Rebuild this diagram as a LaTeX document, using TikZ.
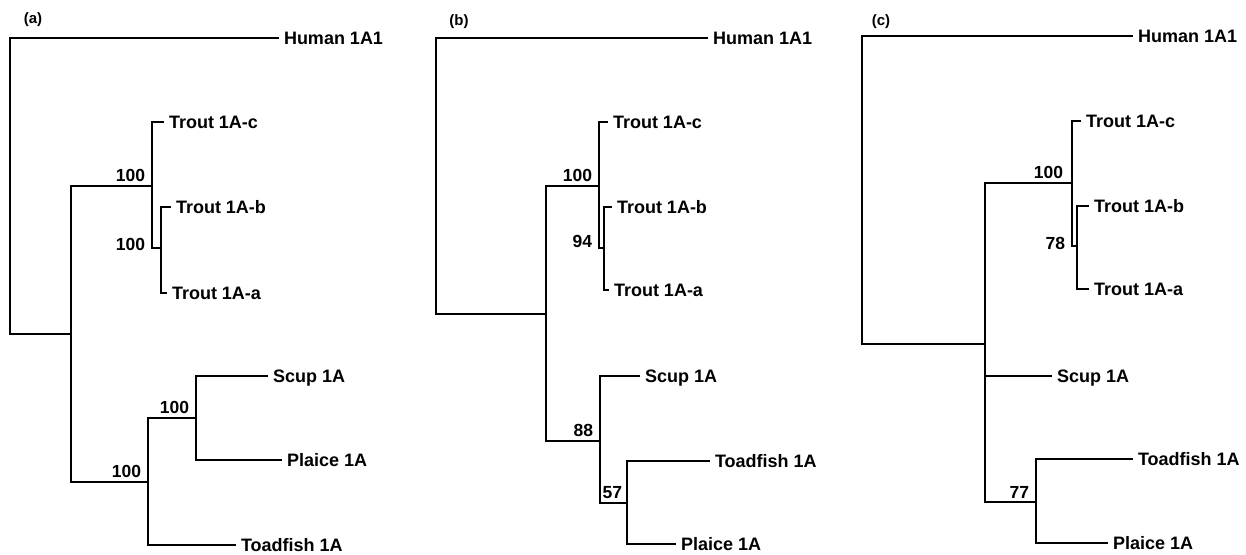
\documentclass[tikz,border=0pt]{standalone}
\usepackage{fontspec}
\setmainfont{Liberation Sans}
\usetikzlibrary{positioning}

\begin{document}
\begin{tikzpicture}[x=1pt, y=-1pt,
  line width=2pt, line cap=rect,
  taxon/.style={anchor=west, font=\bfseries\fontsize{18}{18}\selectfont, inner xsep=5pt, inner ysep=0pt,
                text height=13pt, text depth=0pt},
  boot/.style={anchor=south east, font=\bfseries\fontsize{17.5}{18}\selectfont, inner xsep=6pt, inner ysep=3pt},
  bootlow/.style={anchor=base east, font=\bfseries\fontsize{17.5}{18}\selectfont, inner xsep=6pt, yshift=-1pt},
  panel/.style={font=\bfseries\fontsize{15}{15}\selectfont, inner sep=0pt}
]
\useasboundingbox (0,0) rectangle (1246,554);

% (a)
\node[panel] (laba) at (33,20) {(a)};
\coordinate (ra) at (10,334);
\coordinate (a1) at (71,334);
\coordinate (a2) at (152,186);
\coordinate (a3) at (161,248);
\coordinate (a4) at (148,482);
\coordinate (a5) at (196,418);
\node[taxon] (ahum) at (278,38) {Human 1A1};
\node[taxon] (atc) at (163,122) {Trout 1A-c};
\node[taxon] (atb) at (170,207) {Trout 1A-b};
\node[taxon] (ata) at (166,293) {Trout 1A-a};
\node[taxon] (ascup) at (267,376) {Scup 1A};
\node[taxon] (aplai) at (281,460) {Plaice 1A};
\node[taxon] (atoad) at (235,545) {Toadfish 1A};
\draw (ra) |- (ahum.west);
\draw (ra) -- (a1);
\draw (a1) |- (a2);
\draw (a1) |- (a4);
\draw (a2) |- (atc.west);
\draw (a2) |- (a3);
\draw (a3) |- (atb.west);
\draw (a3) |- (ata.west);
\draw (a4) |- (a5);
\draw (a4) |- (atoad.west);
\draw (a5) |- (ascup.west);
\draw (a5) |- (aplai.west);
\node[boot] (sa2) at (a2) {100};
\node[bootlow, yshift=-1pt] (sa3) at (a3 -| a2) {100};
\node[boot] (sa4) at (a4) {100};
\node[boot] (sa5) at (a5) {100};

% (b)
\node[panel] (labb) at (459,22) {(b)};
\coordinate (rb) at (436,314);
\coordinate (b1) at (546,314);
\coordinate (b2) at (599,186);
\coordinate (b3) at (604,248);
\coordinate (b4) at (600,441);
\coordinate (b5) at (627,503);
\node[taxon] (bhum) at (707,38) {Human 1A1};
\node[taxon] (btc) at (607,122) {Trout 1A-c};
\node[taxon] (btb) at (611,207) {Trout 1A-b};
\node[taxon] (bta) at (608,290) {Trout 1A-a};
\node[taxon] (bscup) at (639,376) {Scup 1A};
\node[taxon] (btoad) at (709,461) {Toadfish 1A};
\node[taxon] (bplai) at (675,544) {Plaice 1A};
\draw (rb) |- (bhum.west);
\draw (rb) -- (b1);
\draw (b1) |- (b2);
\draw (b1) |- (b4);
\draw (b2) |- (btc.west);
\draw (b2) |- (b3);
\draw (b3) |- (btb.west);
\draw (b3) |- (bta.west);
\draw (b4) |- (bscup.west);
\draw (b4) |- (b5);
\draw (b5) |- (btoad.west);
\draw (b5) |- (bplai.west);
\node[boot] (sb2) at (b2) {100};
\node[bootlow, yshift=2pt] (sb3) at (b3 -| b2) {94};
\node[boot] (sb4) at (b4) {88};
\node[boot, inner xsep=4pt] (sb5) at (b5) {57};

% (c)
\node[panel] (labc) at (881,22) {(c)};
\coordinate (rc) at (862,344);
\coordinate (c1) at (985,344);
\coordinate (c2) at (1072,183);
\coordinate (c3) at (1077,246);
\coordinate (c4) at (1036,502);
\node[taxon] (chum) at (1132,36) {Human 1A1};
\node[taxon] (ctc) at (1080,121) {Trout 1A-c};
\node[taxon] (ctb) at (1088,206) {Trout 1A-b};
\node[taxon] (cta) at (1088,289) {Trout 1A-a};
\node[taxon] (cscup) at (1051,376) {Scup 1A};
\node[taxon] (ctoad) at (1132,459) {Toadfish 1A};
\node[taxon] (cplai) at (1107,543) {Plaice 1A};
\draw (rc) |- (chum.west);
\draw (rc) -- (c1);
\draw (c1) |- (c2);
\draw (c1) |- (cscup.west);
\draw (c1) |- (c4);
\draw (c2) |- (ctc.west);
\draw (c2) |- (c3);
\draw (c3) |- (ctb.west);
\draw (c3) |- (cta.west);
\draw (c4) |- (ctoad.west);
\draw (c4) |- (cplai.west);
\node[boot, inner xsep=8pt] (sc2) at (c2) {100};
\node[bootlow, yshift=-2pt] (sc3) at (c3 -| c2) {78};
\node[boot] (sc4) at (c4) {77};
\end{tikzpicture}
\end{document}
